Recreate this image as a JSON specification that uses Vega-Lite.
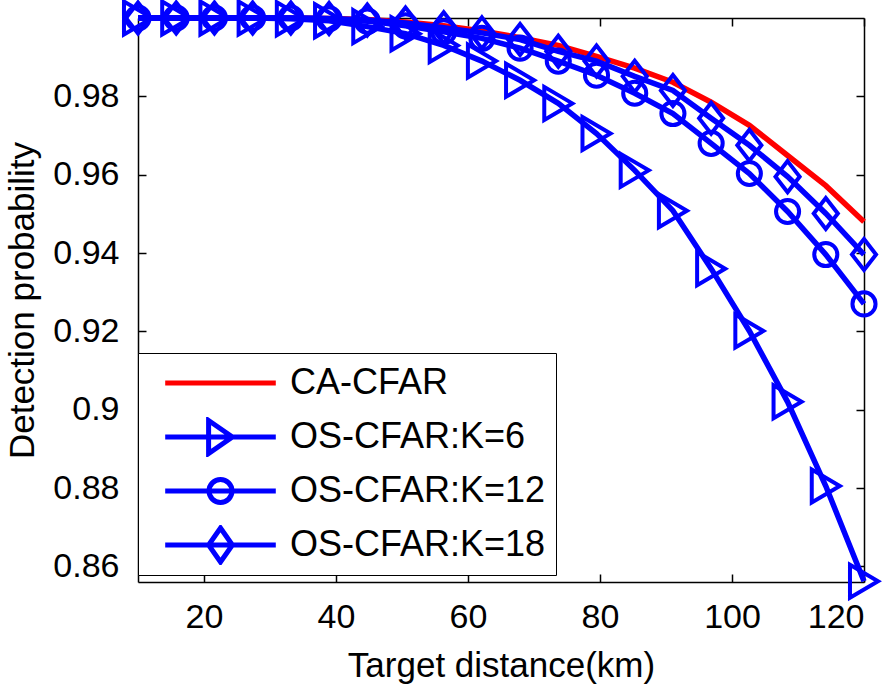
{
  "$schema": "https://vega.github.io/schema/vega-lite/v6.json",
  "width": 726,
  "height": 564,
  "autosize": {"type": "none"},
  "padding": {"left": 138, "top": 18, "right": 30, "bottom": 103},
  "background": "white",
  "config": {
    "font": "Liberation Sans",
    "view": {"stroke": null},
    "axis": {"grid": false, "domainColor": "black", "domainWidth": 1.5, "tickColor": "black", "tickWidth": 1.5, "tickSize": -8, "labelFontSize": 34, "labelColor": "black", "labelFont": "Liberation Sans", "titleFont": "Liberation Sans", "titleFontSize": 35, "titleFontWeight": "normal", "titleColor": "black"}
  },
  "data": {"values": [
    {"series": "CA-CFAR", "x": 10, "p": 1.0},
    {"series": "CA-CFAR", "x": 15.79, "p": 1.0},
    {"series": "CA-CFAR", "x": 21.58, "p": 1.0},
    {"series": "CA-CFAR", "x": 27.37, "p": 1.0},
    {"series": "CA-CFAR", "x": 33.16, "p": 1.0},
    {"series": "CA-CFAR", "x": 38.95, "p": 0.9999},
    {"series": "CA-CFAR", "x": 44.74, "p": 0.9996},
    {"series": "CA-CFAR", "x": 50.53, "p": 0.999},
    {"series": "CA-CFAR", "x": 56.32, "p": 0.998},
    {"series": "CA-CFAR", "x": 62.11, "p": 0.9967},
    {"series": "CA-CFAR", "x": 67.89, "p": 0.995},
    {"series": "CA-CFAR", "x": 73.68, "p": 0.993},
    {"series": "CA-CFAR", "x": 79.47, "p": 0.9902},
    {"series": "CA-CFAR", "x": 85.26, "p": 0.9872},
    {"series": "CA-CFAR", "x": 91.05, "p": 0.9836},
    {"series": "CA-CFAR", "x": 96.84, "p": 0.9785},
    {"series": "CA-CFAR", "x": 102.63, "p": 0.9726},
    {"series": "CA-CFAR", "x": 108.42, "p": 0.9649},
    {"series": "CA-CFAR", "x": 114.21, "p": 0.9572},
    {"series": "CA-CFAR", "x": 120, "p": 0.948},
    {"series": "OS-CFAR:K=6", "x": 10, "p": 1.0},
    {"series": "OS-CFAR:K=6", "x": 15.79, "p": 1.0},
    {"series": "OS-CFAR:K=6", "x": 21.58, "p": 1.0},
    {"series": "OS-CFAR:K=6", "x": 27.37, "p": 1.0},
    {"series": "OS-CFAR:K=6", "x": 33.16, "p": 0.9998},
    {"series": "OS-CFAR:K=6", "x": 38.95, "p": 0.9993},
    {"series": "OS-CFAR:K=6", "x": 44.74, "p": 0.9978},
    {"series": "OS-CFAR:K=6", "x": 50.53, "p": 0.996},
    {"series": "OS-CFAR:K=6", "x": 56.32, "p": 0.993},
    {"series": "OS-CFAR:K=6", "x": 62.11, "p": 0.989},
    {"series": "OS-CFAR:K=6", "x": 67.89, "p": 0.9841},
    {"series": "OS-CFAR:K=6", "x": 73.68, "p": 0.9782},
    {"series": "OS-CFAR:K=6", "x": 79.47, "p": 0.9705},
    {"series": "OS-CFAR:K=6", "x": 85.26, "p": 0.9611},
    {"series": "OS-CFAR:K=6", "x": 91.05, "p": 0.9508},
    {"series": "OS-CFAR:K=6", "x": 96.84, "p": 0.936},
    {"series": "OS-CFAR:K=6", "x": 102.63, "p": 0.9201},
    {"series": "OS-CFAR:K=6", "x": 108.42, "p": 0.902},
    {"series": "OS-CFAR:K=6", "x": 114.21, "p": 0.8805},
    {"series": "OS-CFAR:K=6", "x": 120, "p": 0.8562},
    {"series": "OS-CFAR:K=12", "x": 10, "p": 1.0},
    {"series": "OS-CFAR:K=12", "x": 15.79, "p": 1.0},
    {"series": "OS-CFAR:K=12", "x": 21.58, "p": 1.0},
    {"series": "OS-CFAR:K=12", "x": 27.37, "p": 1.0},
    {"series": "OS-CFAR:K=12", "x": 33.16, "p": 1.0},
    {"series": "OS-CFAR:K=12", "x": 38.95, "p": 0.9998},
    {"series": "OS-CFAR:K=12", "x": 44.74, "p": 0.9992},
    {"series": "OS-CFAR:K=12", "x": 50.53, "p": 0.998},
    {"series": "OS-CFAR:K=12", "x": 56.32, "p": 0.9965},
    {"series": "OS-CFAR:K=12", "x": 62.11, "p": 0.9948},
    {"series": "OS-CFAR:K=12", "x": 67.89, "p": 0.9923},
    {"series": "OS-CFAR:K=12", "x": 73.68, "p": 0.989},
    {"series": "OS-CFAR:K=12", "x": 79.47, "p": 0.9854},
    {"series": "OS-CFAR:K=12", "x": 85.26, "p": 0.9808},
    {"series": "OS-CFAR:K=12", "x": 91.05, "p": 0.9756},
    {"series": "OS-CFAR:K=12", "x": 96.84, "p": 0.968},
    {"series": "OS-CFAR:K=12", "x": 102.63, "p": 0.9603},
    {"series": "OS-CFAR:K=12", "x": 108.42, "p": 0.9506},
    {"series": "OS-CFAR:K=12", "x": 114.21, "p": 0.9396},
    {"series": "OS-CFAR:K=12", "x": 120, "p": 0.927},
    {"series": "OS-CFAR:K=18", "x": 10, "p": 1.0},
    {"series": "OS-CFAR:K=18", "x": 15.79, "p": 1.0},
    {"series": "OS-CFAR:K=18", "x": 21.58, "p": 1.0},
    {"series": "OS-CFAR:K=18", "x": 27.37, "p": 1.0},
    {"series": "OS-CFAR:K=18", "x": 33.16, "p": 1.0},
    {"series": "OS-CFAR:K=18", "x": 38.95, "p": 0.9999},
    {"series": "OS-CFAR:K=18", "x": 44.74, "p": 0.9995},
    {"series": "OS-CFAR:K=18", "x": 50.53, "p": 0.9987},
    {"series": "OS-CFAR:K=18", "x": 56.32, "p": 0.9975},
    {"series": "OS-CFAR:K=18", "x": 62.11, "p": 0.9962},
    {"series": "OS-CFAR:K=18", "x": 67.89, "p": 0.9945},
    {"series": "OS-CFAR:K=18", "x": 73.68, "p": 0.9915},
    {"series": "OS-CFAR:K=18", "x": 79.47, "p": 0.989},
    {"series": "OS-CFAR:K=18", "x": 85.26, "p": 0.9851},
    {"series": "OS-CFAR:K=18", "x": 91.05, "p": 0.9815},
    {"series": "OS-CFAR:K=18", "x": 96.84, "p": 0.9744},
    {"series": "OS-CFAR:K=18", "x": 102.63, "p": 0.9675},
    {"series": "OS-CFAR:K=18", "x": 108.42, "p": 0.9595},
    {"series": "OS-CFAR:K=18", "x": 114.21, "p": 0.9501},
    {"series": "OS-CFAR:K=18", "x": 120, "p": 0.9396}
  ]},
  "layer": [
    {
      "mark": {"type": "line", "strokeWidth": 5.5},
      "encoding": {
        "x": {"field": "x", "type": "quantitative", "scale": {"domain": [10, 120], "nice": false, "zero": false},
              "axis": {"orient": "bottom", "values": [20, 40, 60, 80, 100, 120], "title": "Target distance(km)", "labelPadding": 26, "titlePadding": 14}},
        "y": {"field": "p", "type": "quantitative", "scale": {"domain": [0.856, 1.0], "nice": false, "zero": false},
              "axis": {"orient": "left", "values": [0.86, 0.88, 0.9, 0.92, 0.94, 0.96, 0.98], "format": ".2~f", "title": "Detection probability", "labelPadding": 27, "titlePadding": 12}},
        "color": {"field": "series", "type": "nominal",
                  "scale": {"domain": ["CA-CFAR", "OS-CFAR:K=6", "OS-CFAR:K=12", "OS-CFAR:K=18"], "range": ["#ff0000", "#0000ff", "#0000ff", "#0000ff"]},
                  "legend": null}
      }
    },
    {
      "transform": [{"filter": "datum.series !== 'CA-CFAR'"}],
      "mark": {"type": "point", "filled": false, "strokeWidth": 4, "size": 1089, "opacity": 1},
      "encoding": {
        "x": {"field": "x", "type": "quantitative", "axis": null},
        "y": {"field": "p", "type": "quantitative", "axis": null},
        "color": {"field": "series", "type": "nominal", "legend": null},
        "shape": {"field": "series", "type": "nominal",
                  "scale": {"domain": ["OS-CFAR:K=6", "OS-CFAR:K=12", "OS-CFAR:K=18"],
                            "range": ["M-0.85,-1L0.85,0L-0.85,1Z", "M-0.7,0A0.7,0.7 0 1,0 0.7,0A0.7,0.7 0 1,0 -0.7,0Z", "M0,-0.94L0.73,0L0,0.94L-0.73,0Z"]},
                  "legend": null}
      }
    },
    {
      "transform": [{"filter": "false"}],
      "mark": {"type": "point", "filled": false, "opacity": 1},
      "encoding": {
        "x": {"field": "x", "type": "quantitative", "axis": {"orient": "top", "values": [20, 40, 60, 80, 100, 120], "labels": false, "title": null}},
        "y": {"field": "p", "type": "quantitative", "axis": {"orient": "right", "values": [0.86, 0.88, 0.9, 0.92, 0.94, 0.96, 0.98], "labels": false, "title": null}},
        "color": {"field": "series", "type": "nominal",
                  "legend": {"orient": "none", "legendX": 0, "legendY": 335, "title": null, "symbolSize": 19600, "symbolStrokeWidth": 5, "symbolOpacity": 1, "clipHeight": 40, "rowPadding": 14, "labelFontSize": 36, "labelColor": "black", "labelLimit": 500, "labelOffset": -3, "padding": 10, "strokeColor": "black", "fillColor": "white", "cornerRadius": 0}},
        "shape": {"field": "series", "type": "nominal",
                  "scale": {"domain": ["CA-CFAR", "OS-CFAR:K=6", "OS-CFAR:K=12", "OS-CFAR:K=18"],
                            "range": ["M-0.79,0L0.79,0", "M-0.79,0L0.79,0M-0.17,-0.236L0.17,0L-0.17,0.236Z", "M-0.79,0L0.79,0M-0.164,0A0.164,0.164 0 1,0 0.164,0A0.164,0.164 0 1,0 -0.164,0Z", "M-0.79,0L0.79,0M0,-0.243L0.17,0L0,0.243L-0.17,0Z"]},
                  "legend": {"orient": "none", "legendX": 0, "legendY": 335, "title": null, "symbolSize": 19600, "symbolStrokeWidth": 5, "symbolOpacity": 1, "clipHeight": 40, "rowPadding": 14, "labelFontSize": 36, "labelColor": "black", "labelLimit": 500, "labelOffset": -3, "padding": 10, "strokeColor": "black", "fillColor": "white", "cornerRadius": 0}}
      }
    }
  ],
  "resolve": {"scale": {"shape": "independent"}, "legend": {"color": "independent", "shape": "independent"}, "axis": {"x": "independent", "y": "independent"}}
}
